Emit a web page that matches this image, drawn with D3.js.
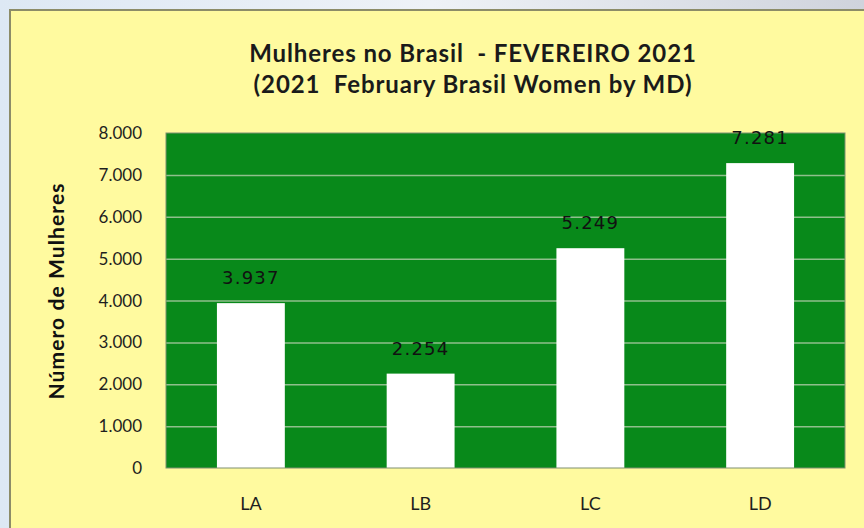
<!DOCTYPE html>
<html lang="en">
<head>
  <meta charset="UTF-8">
  <title>Mulheres no Brasil - Fevereiro 2021</title>
  <script src="https://d3js.org/d3.v7.min.js"></script>
  <style>
    body { margin: 0; background: #e8eef6; }
    svg { display: block; }
    .tick-label { font-family: Lato, sans-serif; font-size: 17px; fill: #1e1e1e; }
    .cat-label { font-family: Lato, sans-serif; font-size: 18px; fill: #1e1e1e; }
    .bar-label { font-family: "DejaVu Sans", sans-serif; font-size: 18px; letter-spacing: 1.2px; fill: #111; }
    .title { font-family: Lato, sans-serif; font-weight: bold; font-size: 24px; letter-spacing: 0.9px; fill: #1a1a1a; }
    .y-title { font-family: Lato, sans-serif; font-weight: bold; font-size: 21px; letter-spacing: 1.1px; fill: #111; }
  </style>
</head>
<body>
  <svg id="chart" width="864" height="528"></svg>
  <script>
    // data
    const categories = ["LA", "LB", "LC", "LD"];
    const values = [3937, 2254, 5249, 7281];
    const yTicks = [0, 1000, 2000, 3000, 4000, 5000, 6000, 7000, 8000];
    const titleLines = ["Mulheres no Brasil  - FEVEREIRO 2021", "(2021  February Brasil Women by MD)"];
    const yTitle = "Número de Mulheres";

    const svg = d3.select("#chart");
    const fmt = v => d3.format(",")(v).replace(/,/g, ".");

    // blurry backdrop
    const defs = svg.append("defs");
    const bg = defs.append("linearGradient").attr("id", "bg").attr("x1", 0).attr("x2", 1);
    bg.append("stop").attr("offset", "0%").attr("stop-color", "#dde8f4");
    bg.append("stop").attr("offset", "50%").attr("stop-color", "#eef2f7");
    bg.append("stop").attr("offset", "100%").attr("stop-color", "#cfd3dc");
    svg.append("rect").attr("width", 864).attr("height", 528).attr("fill", "url(#bg)");

    // yellow panel
    svg.append("rect")
      .attr("x", 10).attr("y", 10).attr("width", 870).attr("height", 530)
      .attr("fill", "#fffa9f")
      .attr("stroke", "#8c8c68").attr("stroke-width", 2);

    const plot = { left: 166, right: 845, top: 133, bottom: 468 };

    const x = d3.scaleBand().domain(categories)
      .range([plot.left, plot.right])
      .paddingInner(0.6).paddingOuter(0.3);
    const y = d3.scaleLinear().domain([0, 8000]).range([plot.bottom, plot.top]);

    // plot background
    svg.append("rect")
      .attr("x", plot.left).attr("y", plot.top)
      .attr("width", plot.right - plot.left).attr("height", plot.bottom - plot.top)
      .attr("fill", "#08891a");

    // gridlines
    svg.append("g").selectAll("line")
      .data(yTicks.filter(d => d > 0 && d < 8000))
      .enter().append("line")
      .attr("x1", plot.left).attr("x2", plot.right)
      .attr("y1", d => y(d) + 0.5).attr("y2", d => y(d) + 0.5)
      .attr("stroke", "#8fbf8c").attr("stroke-width", 1.5);

    // bars
    svg.append("g").selectAll("rect")
      .data(values)
      .enter().append("rect")
      .attr("x", (d, i) => x(categories[i]))
      .attr("y", d => y(d))
      .attr("width", x.bandwidth())
      .attr("height", d => y(0) - y(d))
      .attr("fill", "#ffffff");

    // plot border
    svg.append("rect")
      .attr("x", plot.left).attr("y", plot.top)
      .attr("width", plot.right - plot.left).attr("height", plot.bottom - plot.top)
      .attr("fill", "none").attr("stroke", "#7f8f70").attr("stroke-width", 1);

    // bar labels
    svg.append("g").selectAll("text")
      .data(values)
      .enter().append("text")
      .attr("class", "bar-label")
      .attr("x", (d, i) => x(categories[i]) + x.bandwidth() / 2)
      .attr("y", d => y(d) - 19)
      .attr("text-anchor", "middle")
      .text(d => fmt(d));

    // y tick labels
    svg.append("g").selectAll("text")
      .data(yTicks)
      .enter().append("text")
      .attr("class", "tick-label")
      .attr("x", 142)
      .attr("y", d => y(d) + 6)
      .attr("text-anchor", "end")
      .text(d => fmt(d));

    // x labels
    svg.append("g").selectAll("text")
      .data(categories)
      .enter().append("text")
      .attr("class", "cat-label")
      .attr("x", d => x(d) + x.bandwidth() / 2)
      .attr("y", 510)
      .attr("text-anchor", "middle")
      .text(d => d);

    // titles
    svg.append("g").selectAll("text")
      .data(titleLines)
      .enter().append("text")
      .attr("class", "title")
      .attr("x", 473)
      .attr("y", (d, i) => 62 + i * 31)
      .attr("text-anchor", "middle")
      .attr("xml:space", "preserve")
      .style("white-space", "pre")
      .text(d => d);

    svg.append("text")
      .attr("class", "y-title")
      .attr("transform", "translate(64,291) rotate(-90)")
      .attr("text-anchor", "middle")
      .text(yTitle);
  </script>
</body>
</html>
